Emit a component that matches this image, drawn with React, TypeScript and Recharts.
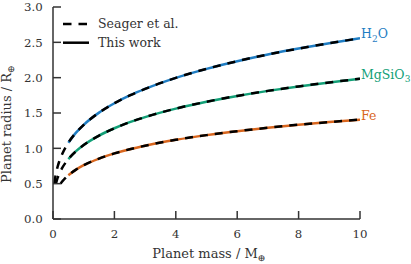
import React from 'react';
import { ComposedChart, Line, XAxis, YAxis, LabelList } from 'recharts';

// ---- data ----
const xTicks = [0, 2, 4, 6, 8, 10];
const yTicks = [0, 0.5, 1, 1.5, 2, 2.5, 3];

// "This work" (solid coloured lines)
const massThisWork = [0.5, 0.75, 1, 1.5, 2, 2.5, 3, 4, 5, 6, 7, 8, 9, 10];
const h2oThisWork = [1.079, 1.222, 1.333, 1.505, 1.638, 1.748, 1.841, 1.997, 2.125, 2.233, 2.328, 2.412, 2.488, 2.557];
const mgsio3ThisWork = [0.848, 0.96, 1.047, 1.181, 1.284, 1.37, 1.442, 1.562, 1.659, 1.742, 1.813, 1.876, 1.933, 1.984];
const feThisWork = [0.619, 0.699, 0.761, 0.855, 0.928, 0.987, 1.037, 1.12, 1.187, 1.243, 1.291, 1.334, 1.372, 1.406];

// Seager et al. (black dashed lines)
const massSeagerH2O = [0.045, 0.07, 0.1, 0.15, 0.2, 0.3, 0.5, 0.75, 1, 1.5, 2, 2.5, 3, 4, 5, 6, 7, 8, 9, 10];
const radiusSeagerH2O = [0.5, 0.58, 0.65, 0.739, 0.81, 0.92, 1.079, 1.222, 1.333, 1.505, 1.638, 1.748, 1.841, 1.997, 2.125, 2.233, 2.328, 2.412, 2.488, 2.557];
const massSeagerMgSiO3 = [0.095, 0.15, 0.2, 0.3, 0.5, 0.75, 1, 1.5, 2, 2.5, 3, 4, 5, 6, 7, 8, 9, 10];
const radiusSeagerMgSiO3 = [0.5, 0.581, 0.637, 0.723, 0.848, 0.96, 1.047, 1.181, 1.284, 1.37, 1.442, 1.562, 1.659, 1.742, 1.813, 1.876, 1.933, 1.984];
const massSeagerFe = [0.25, 0.3, 0.35, 0.4, 0.5, 0.75, 1, 1.5, 2, 2.5, 3, 4, 5, 6, 7, 8, 9, 10];
const radiusSeagerFe = [0.5, 0.53, 0.555, 0.579, 0.619, 0.699, 0.761, 0.855, 0.928, 0.987, 1.037, 1.12, 1.187, 1.243, 1.291, 1.334, 1.372, 1.406];

const seriesNames = ['H2O', 'MgSiO3', 'Fe'];
const legendLabels = ['Seager et al.', 'This work'];

// ---- styles ----
const FONT = "'DejaVu Serif', serif";
const INK = '#333333';
const COLORS: Record<string, string> = { H2O: '#1f7dc3', MgSiO3: '#12a077', Fe: '#d9661e' };
const LINE_W = 2.5;
const DASH = '8 7';

const zip = (xs: number[], ys: number[]) => xs.map((m, i) => ({ m, r: ys[i] }));

const solidSeries = [
  { name: seriesNames[0], data: zip(massThisWork, h2oThisWork) },
  { name: seriesNames[1], data: zip(massThisWork, mgsio3ThisWork) },
  { name: seriesNames[2], data: zip(massThisWork, feThisWork) },
];
const dashedSeries = [
  { name: seriesNames[0], data: zip(massSeagerH2O, radiusSeagerH2O) },
  { name: seriesNames[1], data: zip(massSeagerMgSiO3, radiusSeagerMgSiO3) },
  { name: seriesNames[2], data: zip(massSeagerFe, radiusSeagerFe) },
];

const Chem = ({ name }: { name: string }) => {
  const parts = name.match(/[A-Za-z]+|\d+/g) || [];
  return (
    <>
      {parts.map((p, i) =>
        /\d/.test(p) ? (
          <tspan key={i} dy={3.5} fontSize={9}>{p}</tspan>
        ) : (
          <tspan key={i} dy={i > 0 && /\d/.test(parts[i - 1]) ? -3.5 : 0}>{p}</tspan>
        )
      )}
    </>
  );
};

const endLabel = (name: string, lastIndex: number) => (props: any) => {
  const { x, y, index } = props;
  if (index !== lastIndex) return null;
  return (
    <text x={Number(x) + 1} y={Number(y)} dy="0.36em" fill={COLORS[name]} fontFamily={FONT} style={{ fontFamily: FONT }} fontSize={12.5} textAnchor="start">
      <Chem name={name} />
    </text>
  );
};

const XLabel = (props: any) => {
  const vb = props.viewBox || { x: 53, y: 219, width: 307, height: 45 };
  return (
    <text x={vb.x + vb.width / 2 + 2.5} y={vb.y + 38.5} textAnchor="middle" fontFamily={FONT} style={{ fontFamily: FONT }} fontSize={13} fill={INK}>
      Planet mass / M<tspan dy={3} fontSize={9.5}>⊕</tspan>
    </text>
  );
};

const YLabel = (props: any) => {
  const vb = props.viewBox || { x: 0, y: 7, width: 53, height: 212 };
  const cx = vb.x + 11;
  const cy = vb.y + vb.height / 2 + 11;
  return (
    <text x={cx} y={cy} transform={`rotate(-90, ${cx}, ${cy})`} textAnchor="middle" fontFamily={FONT} style={{ fontFamily: FONT }} fontSize={13} fill={INK}>
      Planet radius / R<tspan dy={3} fontSize={9.5}>⊕</tspan>
    </text>
  );
};

const legendGroup = (
  <g className="legend">
    {legendLabels.map((lab, i) => {
      const y = 24 + i * 18.7;
      return (
        <g key={lab}>
          <line x1={63} x2={89} y1={y} y2={y} stroke="#000" strokeWidth={LINE_W} strokeDasharray={i === 0 ? '8.5 7' : undefined} />
          <text x={98} y={y + 4.3} fontFamily={FONT} style={{ fontFamily: FONT }} fontSize={12.5} fill={INK}>{lab}</text>
        </g>
      );
    })}
  </g>
);

export default function App() {
  return (
    <div style={{ position: 'absolute', left: 0, top: 0, width: 411, height: 264, background: '#fff' }}>
      <ComposedChart width={411} height={264} margin={{ top: 7, right: 51, bottom: 0, left: 0 }} style={{ fontFamily: FONT }}>
        <XAxis
          type="number"
          dataKey="m"
          domain={[0, 10]}
          ticks={xTicks}
          allowDataOverflow
          height={45}
          tickSize={-8}
          tickMargin={18.5}
          axisLine={{ stroke: INK, strokeWidth: 1.5 }}
          tickLine={{ stroke: INK, strokeWidth: 1.5 }}
          tick={{ fontFamily: FONT, fontSize: 11.75, fill: INK }}
          label={<XLabel />}
        />
        <YAxis
          type="number"
          dataKey="r"
          domain={[0, 3]}
          ticks={yTicks}
          allowDataOverflow
          width={53}
          tickSize={-8}
          tickMargin={18.3}
          tickFormatter={(v: number) => v.toFixed(1)}
          axisLine={{ stroke: INK, strokeWidth: 1.5 }}
          tickLine={{ stroke: INK, strokeWidth: 1.5 }}
          tick={{ fontFamily: FONT, fontSize: 11.75, fill: INK }}
          label={<YLabel />}
        />
        {solidSeries.map((s) => (
          <Line
            key={'solid-' + s.name}
            data={s.data}
            dataKey="r"
            type="monotone"
            stroke={COLORS[s.name]}
            strokeWidth={LINE_W}
            dot={false}
            activeDot={false}
            isAnimationActive={false}
            legendType="none"
          >
            <LabelList dataKey="r" content={endLabel(s.name, s.data.length - 1)} />
          </Line>
        ))}
        {dashedSeries.map((s) => (
          <Line
            key={'dash-' + s.name}
            data={s.data}
            dataKey="r"
            type="monotone"
            stroke="#000"
            strokeWidth={LINE_W}
            strokeDasharray={DASH}
            dot={false}
            activeDot={false}
            isAnimationActive={false}
            legendType="none"
          />
        ))}
        {legendGroup}
      </ComposedChart>
    </div>
  );
}
